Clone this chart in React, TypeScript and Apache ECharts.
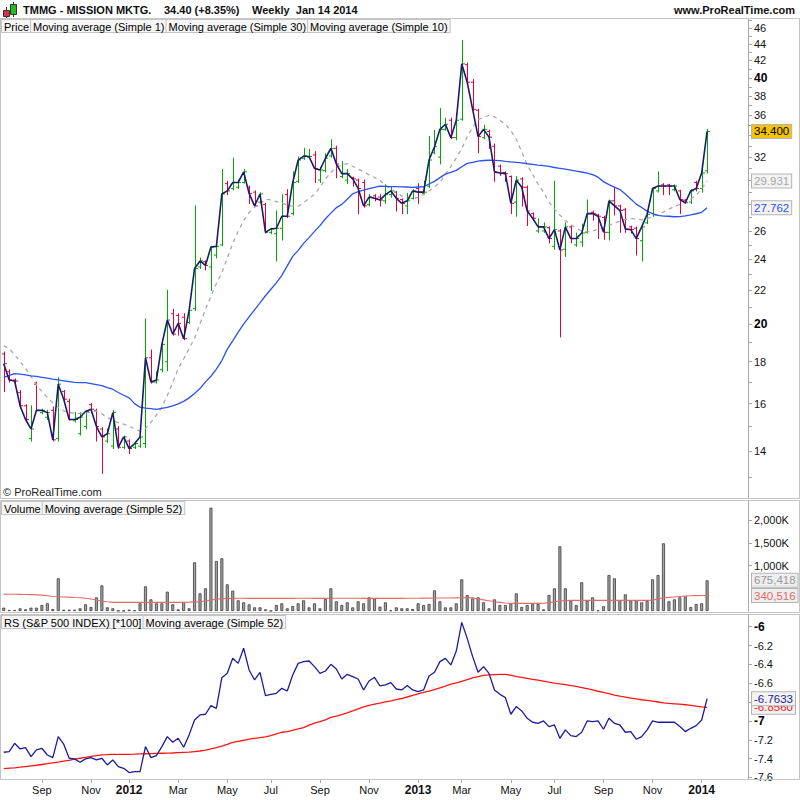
import React, { useEffect, useRef } from "react";
import * as echarts from "echarts";

// ---------- DATA (weekly bars) ----------
const OPEN = [
  18.4, 17.5, 17.1, 16.5, 15.9, 14.5, 16.9, 15.6, 15.4, 15.7,
  14.5, 16.55, 16.1, 15.25, 14.7, 15.0, 15.95, 15.7, 14.9, 14.4,
  14.2, 14.9, 14.15, 14.4, 14.15, 14.2, 14.3, 18.2, 17.0, 17.6,
  18.0, 20.6, 20.5, 20.4, 20.1, 20.9, 23.5, 23.85, 23.5, 24.3,
  25.0, 29.7, 29.3, 29.4, 29.8, 29.4, 29.0, 28.2, 28.0, 25.9,
  25.8, 26.2, 28.8, 27.3, 29.9, 31.9, 32.0, 32.2, 30.0, 30.8,
  32.1, 32.8, 30.3, 30.0, 30.2, 30.0, 29.8, 28.0, 28.7, 28.6,
  28.3, 28.8, 29.0, 28.4, 27.9, 28.5, 29.3, 28.9, 29.5, 32.4,
  32.0, 34.6, 35.5, 33.8, 35.6, 41.5, 39.5, 36.5, 33.8, 34.4,
  33.0, 31.2, 30.65, 30.3, 28.2, 30.1, 29.4, 27.3, 26.0, 26.0,
  26.25, 24.9, 26.0, 24.7, 26.3, 25.0, 25.2, 25.9, 27.4, 27.2,
  27.0, 25.9, 28.3, 27.9, 27.6, 26.3, 26.2, 25.3, 26.6, 27.3,
  29.1, 29.6, 29.6, 29.2, 29.1, 28.35, 28.2, 29.8, 29.3, 30.8,
];
const HIGH = [
  18.5, 17.6, 17.15, 16.6, 15.95, 15.9, 17.0, 15.75, 15.7, 15.85,
  17.2, 16.6, 16.2, 15.6, 15.6, 15.7, 16.0, 15.75, 14.95, 14.9,
  15.7, 15.0, 14.6, 14.45, 14.35, 14.65, 20.3, 18.6, 17.5, 19.0,
  22.0, 20.85, 20.6, 20.6, 20.95, 27.9, 24.1, 23.9, 24.9, 24.95,
  30.9, 29.9, 31.9, 30.0, 30.9, 29.5, 29.1, 28.95, 28.1, 26.2,
  27.5, 28.8, 29.2, 30.7, 32.0, 32.8, 32.7, 32.5, 31.1, 32.3,
  33.6, 33.0, 31.6, 30.9, 30.25, 30.1, 30.0, 28.8, 28.8, 28.8,
  29.6, 29.4, 29.05, 28.45, 28.9, 29.2, 29.7, 29.9, 33.9, 34.5,
  36.7, 35.7, 35.7, 36.2, 44.4, 41.7, 39.8, 36.6, 35.0, 34.5,
  33.2, 31.3, 30.7, 30.35, 30.3, 30.2, 29.5, 27.35, 26.9, 26.6,
  26.3, 29.9, 26.1, 26.6, 26.4, 25.85, 26.5, 28.36, 27.5, 27.25,
  27.1, 28.36, 29.4, 27.95, 27.7, 26.35, 26.3, 26.35, 27.5, 29.35,
  30.7, 29.7, 29.65, 29.6, 29.15, 28.4, 29.2, 29.9, 31.4, 34.6,
];
const LOW = [
  16.55, 17.0, 16.95, 15.8, 15.25, 14.4, 15.65, 15.55, 15.3, 14.4,
  14.4, 16.15, 15.28, 15.2, 14.65, 14.9, 15.6, 14.4, 13.15, 14.35,
  14.1, 14.1, 14.1, 13.9, 14.1, 14.15, 14.15, 16.95, 16.95, 17.5,
  17.55, 19.4, 19.4, 19.15, 20.05, 20.8, 23.4, 23.3, 22.0, 24.1,
  24.95, 28.8, 29.2, 29.3, 29.75, 28.1, 27.85, 28.1, 25.85, 25.8,
  23.9, 25.35, 27.0, 27.2, 29.8, 31.8, 31.95, 29.8, 29.8, 30.7,
  32.0, 30.2, 30.2, 29.7, 29.5, 27.3, 27.8, 27.9, 28.3, 27.9,
  28.1, 28.6, 27.5, 27.3, 27.3, 28.45, 28.1, 28.85, 29.4, 32.3,
  31.4, 34.5, 33.7, 33.6, 35.5, 39.3, 36.5, 32.4, 33.7, 32.8,
  29.9, 30.4, 29.9, 27.3, 27.1, 27.9, 26.4, 26.8, 25.9, 25.9,
  25.15, 24.7, 19.3, 24.2, 25.15, 24.9, 24.9, 25.85, 26.8, 25.45,
  25.4, 25.35, 27.2, 25.9, 25.9, 25.85, 24.3, 23.9, 26.55, 27.1,
  29.0, 28.8, 28.8, 29.1, 27.3, 28.1, 28.1, 29.1, 29.0, 30.6,
];
const CLOSE = [
  17.9, 17.1, 17.05, 15.9, 15.3, 14.9, 15.7, 15.7, 15.6, 14.45,
  16.9, 16.2, 15.3, 15.3, 15.4, 15.65, 15.75, 15.0, 14.57, 14.7,
  15.6, 14.15, 14.57, 14.1, 14.3, 14.57, 18.2, 17.0, 17.1, 18.9,
  20.24, 19.45, 20.05, 19.2, 20.8, 23.4, 23.9, 23.6, 24.85, 24.9,
  28.85, 29.1, 29.8, 29.8, 30.7, 28.9, 27.9, 28.85, 25.9, 26.15,
  26.2, 27.1, 27.1, 29.8, 31.74, 32.1, 32.05, 31.0, 30.86, 31.9,
  32.8, 31.4, 30.55, 30.55, 30.1, 29.3, 27.9, 28.6, 28.5, 28.36,
  28.8, 29.1, 28.5, 28.1, 28.3, 29.1, 29.0, 29.0, 31.74, 32.95,
  34.6, 35.1, 33.8, 35.5, 41.6, 39.5, 36.6, 33.9, 34.6, 33.85,
  30.7, 30.6, 30.55, 28.1, 30.0, 29.4, 27.5, 26.95, 26.3, 26.3,
  25.45, 26.1, 24.65, 26.3, 25.45, 25.45, 25.85, 27.3, 27.3, 27.1,
  25.9, 28.3, 27.9, 27.55, 26.15, 26.1, 25.45, 26.3, 27.25, 29.3,
  29.5, 29.5, 29.5, 29.5, 28.4, 28.15, 29.1, 29.3, 30.6, 34.4,
];
const MA30 = [
  17.22, 17.32, 17.41, 17.38, 17.35, 17.3, 17.27, 17.23, 17.19, 17.14,
  17.1, 17.06, 17.02, 16.98, 16.97, 16.97, 16.93, 16.88, 16.83, 16.74,
  16.66, 16.51, 16.38, 16.26, 16.0, 15.84, 15.8, 15.78, 15.74, 15.79,
  15.83, 15.9, 15.99, 16.1, 16.26, 16.46, 16.69, 17.01, 17.28, 17.63,
  18.06, 18.65, 19.09, 19.56, 20.01, 20.42, 20.83, 21.24, 21.67, 22.07,
  22.47, 22.95, 23.57, 24.21, 24.62, 25.11, 25.52, 25.97, 26.39, 26.91,
  27.34, 27.76, 28.02, 28.42, 28.87, 29.04, 29.17, 29.28, 29.39, 29.49,
  29.48, 29.46, 29.45, 29.43, 29.42, 29.39, 29.42, 29.44, 29.67, 29.89,
  30.21, 30.51, 30.65, 30.83, 31.15, 31.44, 31.54, 31.64, 31.7, 31.72,
  31.71, 31.68, 31.62, 31.57, 31.53, 31.48, 31.41, 31.35, 31.29, 31.24,
  31.17, 31.08, 31.01, 30.93, 30.85, 30.76, 30.69, 30.6, 30.47, 30.25,
  29.87, 29.62, 29.41, 29.21, 28.84, 28.44, 28.04, 27.77, 27.49, 27.29,
  27.17, 27.11, 27.1, 27.06, 27.07, 27.12, 27.2, 27.29, 27.4, 27.762,
];
const MA10 = [
  18.82, 18.68, 18.36, 18.01, 17.67, 17.27, 16.88, 16.55, 16.28, 16.03,
  15.84, 15.68, 15.61, 15.57, 15.57, 15.59, 15.62, 15.68, 15.54, 15.39,
  15.26, 15.17, 15.1, 15.01, 14.9, 14.81, 14.92, 15.18, 15.49, 15.85,
  16.37, 16.98, 17.65, 18.14, 18.67, 19.24, 20.02, 20.85, 21.64, 22.43,
  23.12, 24.09, 25.09, 25.98, 26.77, 27.37, 27.8, 28.07, 28.42, 28.38,
  28.24, 28.1, 27.96, 27.88, 27.87, 28.16, 28.5, 28.81, 29.41, 30.09,
  30.65, 31.12, 31.29, 31.43, 31.19, 30.95, 30.72, 30.44, 30.22, 29.96,
  29.58, 29.27, 28.97, 28.7, 28.48, 28.45, 28.57, 28.81, 29.09, 29.41,
  29.83, 30.48, 31.18, 31.92, 32.78, 33.89, 34.79, 35.54, 35.81, 35.99,
  35.84, 35.47, 35.12, 34.48, 33.65, 32.49, 31.33, 30.47, 29.66, 29.0,
  28.2, 27.65, 27.19, 26.77, 26.47, 26.21, 25.99, 25.93, 25.99, 26.14,
  26.25, 26.43, 26.58, 26.73, 26.86, 26.92, 26.89, 26.82, 26.92, 27.07,
  27.23, 27.43, 27.65, 27.85, 28.02, 28.18, 28.44, 28.76, 29.25, 29.931,
];
const VOLUME = [
  73000, 22000, 22000, 59000, 37000, 73000, 73000, 132000, 169000, 44000,
  720000, 29000, 29000, 29000, 59000, 147000, 88000, 301000, 565000, 80000,
  59000, 6000, 5000, 29000, 15000, 169000, 543000, 257000, 169000, 169000,
  426000, 147000, 37000, 198000, 59000, 1073000, 389000, 499000, 2275000, 1101000,
  1160000, 587000, 448000, 235000, 191000, 147000, 80000, 80000, 37000, 6000,
  132000, 169000, 59000, 110000, 169000, 235000, 80000, 169000, 59000, 264000,
  499000, 213000, 132000, 191000, 80000, 213000, 169000, 301000, 279000, 96000,
  191000, 15000, 80000, 59000, 59000, 44000, 169000, 132000, 154000, 455000,
  213000, 80000, 80000, 169000, 698000, 352000, 279000, 301000, 191000, 59000,
  257000, 132000, 132000, 169000, 389000, 88000, 132000, 154000, 154000, 37000,
  352000, 499000, 1425000, 499000, 235000, 132000, 632000, 220000, 301000, 15000,
  103000, 793000, 720000, 235000, 367000, 235000, 235000, 191000, 220000, 698000,
  793000, 1491000, 213000, 257000, 301000, 323000, 88000, 154000, 169000, 675418,
];
const VOLUME_MA52 = [
  372000, 370000, 368000, 367000, 365000, 360000, 355000, 350000, 335000, 320000,
  315000, 310000, 305000, 298000, 293000, 280000, 265000, 242000, 220000, 205000,
  191000, 191000, 191000, 191000, 191000, 191000, 191000, 191000, 191000, 191000,
  191000, 191000, 191000, 191000, 195000, 200000, 205000, 220000, 240000, 262000,
  270000, 278000, 279000, 280000, 280000, 279000, 279000, 278000, 278000, 278000,
  278000, 279000, 279000, 279000, 280000, 280000, 280000, 279000, 279000, 279000,
  280000, 281000, 281000, 280000, 280000, 280000, 279000, 279000, 279000, 279000,
  279000, 279000, 279000, 279000, 280000, 281000, 282000, 283000, 284000, 285000,
  286000, 287000, 288000, 290000, 292000, 293000, 290000, 270000, 245000, 225000,
  205000, 190000, 175000, 169000, 169000, 169000, 169000, 169000, 169000, 170000,
  185000, 205000, 220000, 228000, 235000, 235000, 235000, 235000, 235000, 235000,
  235000, 235000, 235000, 235000, 235000, 235000, 235000, 235000, 235000, 240000,
  270000, 293000, 300000, 310000, 320000, 330000, 335000, 338000, 340000, 340516,
];
const RS = [
  -7.332, -7.326, -7.237, -7.297, -7.283, -7.378, -7.307, -7.29, -7.361, -7.389,
  -7.166, -7.247, -7.396, -7.403, -7.438, -7.403, -7.389, -7.414, -7.396, -7.467,
  -7.414, -7.484, -7.502, -7.548, -7.537, -7.537, -7.272, -7.389, -7.368, -7.272,
  -7.166, -7.226, -7.184, -7.279, -7.148, -6.989, -6.936, -6.929, -6.837, -6.866,
  -6.541, -6.495, -6.335, -6.389, -6.229, -6.459, -6.565, -6.484, -6.731, -6.717,
  -6.707, -6.654, -6.682, -6.512, -6.389, -6.371, -6.364, -6.424, -6.495, -6.47,
  -6.399, -6.449, -6.555, -6.505, -6.53, -6.555, -6.671, -6.576, -6.537, -6.629,
  -6.618, -6.593, -6.661, -6.671, -6.625, -6.671, -6.689, -6.671, -6.523, -6.484,
  -6.371, -6.336, -6.406, -6.258, -5.954, -6.124, -6.318, -6.484, -6.424, -6.495,
  -6.671, -6.717, -6.753, -6.929, -6.848, -6.894, -6.972, -7.014, -7.025, -7.0,
  -7.06, -7.043, -7.184, -7.095, -7.156, -7.166, -7.12, -7.0, -7.007, -7.0,
  -7.088, -6.972, -7.025, -7.043, -7.12, -7.113, -7.194, -7.166, -7.095, -7.0,
  -7.014, -7.014, -7.014, -7.014, -7.06, -7.113, -7.078, -7.05, -6.99, -6.7633,
];
const RS_MA52 = [
  -7.506, -7.501, -7.497, -7.491, -7.484, -7.477, -7.47, -7.462, -7.454, -7.445,
  -7.437, -7.426, -7.418, -7.406, -7.396, -7.387, -7.377, -7.367, -7.36, -7.358,
  -7.355, -7.354, -7.354, -7.354, -7.353, -7.35, -7.348, -7.346, -7.344, -7.343,
  -7.342, -7.34, -7.337, -7.334, -7.331, -7.325, -7.319, -7.309, -7.297, -7.282,
  -7.266, -7.248, -7.228, -7.216, -7.205, -7.193, -7.185, -7.177, -7.168, -7.155,
  -7.137, -7.12, -7.113, -7.1, -7.083, -7.07, -7.044, -7.023, -7.008, -6.988,
  -6.963, -6.949, -6.932, -6.914, -6.894, -6.872, -6.85, -6.834, -6.821, -6.81,
  -6.798, -6.787, -6.775, -6.762, -6.746, -6.73, -6.712, -6.698, -6.684, -6.667,
  -6.648, -6.63, -6.609, -6.597, -6.579, -6.561, -6.544, -6.53, -6.517, -6.511,
  -6.508, -6.506, -6.505, -6.515, -6.53, -6.538, -6.548, -6.558, -6.568, -6.578,
  -6.589, -6.599, -6.607, -6.615, -6.625, -6.634, -6.646, -6.658, -6.671, -6.685,
  -6.696, -6.71, -6.725, -6.737, -6.747, -6.757, -6.767, -6.775, -6.782, -6.79,
  -6.799, -6.808, -6.814, -6.818, -6.822, -6.828, -6.835, -6.843, -6.85, -6.856,
];

// tick labels / axis settings
const PRICE_LABELS = [14, 16, 18, 20, 22, 24, 26, 28, 30, 32, 34, 36, 38, 40, 42, 44, 46];
const PRICE_TICKS = [13, 14, 15, 16, 17, 18, 19, 20, 21, 22, 23, 24, 25, 26, 27, 28, 29, 30, 31, 32, 33, 34, 35, 36, 37, 38, 39, 40, 41, 42, 43, 44, 45, 46, 47];
const PRICE_BOLD = [20, 40];
const VOLUME_LABELS = [1000000, 1500000, 2000000];
const RS_LABELS = [-6, -6.2, -6.4, -6.6, -6.8, -7, -7.2, -7.4, -7.6];
const PRICE_RANGE = [12.27, 47.19];
const VOLUME_MAX = 2423000;
const RS_RANGE = [-7.616, -5.876];
const FIRST_WEEK = Date.UTC(2011, 6, 18);
const MISSING_WEEK = "2011-12-26";
const PAD_WEEKS = 7;
const MONTHS = ["Jan", "Feb", "Mar", "Apr", "May", "Jun", "Jul", "Aug", "Sep", "Oct", "Nov", "Dec"];

const TITLE = "TMMG - MISSION MKTG.";
const TITLE_PRICE = "34.40 (+8.35%)";
const TITLE_PERIOD = "Weekly  Jan 14 2014";

// ---------- STYLE ----------
const FONT = '"Liberation Sans", Arial, Helvetica, sans-serif';
const UP = "#00a800";
const DOWN = "#e8003d";
const C_CLOSE = "#1b1b6e";
const C_MA30 = "#2b52ee";
const C_MA10 = "#a9a9a9";
const C_VOLMA = "#e36a6a";
const C_RS = "#1c1c9c";
const C_RSMA = "#ff1414";
const AXIS = "#a8a8a8";
const FRAME = "#c4c4c4";

// grid heights in px (used to keep axis labels that would sit under a value tag hidden, as in the reference)
const PRICE_H = 479;
const RS_H = 164;
const TAG_CLEARANCE = 8;

const L = (v: number) => Math.log10(v);

function buildWeeks(): string[] {
  const out: string[] = [];
  let t = FIRST_WEEK;
  while (out.length < CLOSE.length) {
    const s = new Date(t).toISOString().slice(0, 10);
    if (s !== MISSING_WEEK) out.push(s);
    t += 7 * 86400000;
  }
  for (let k = 0; k < PAD_WEEKS; k++) out.push("~" + k);
  return out;
}

function buildOption(): any {
  const cats = buildWeeks();
  const isDate = (s: string) => /^\d{4}-/.test(s);
  const month = (s: string) => (isDate(s) ? Number(s.slice(5, 7)) - 1 : -1);
  const showAt = (i: number) => {
    if (i <= 0 || !isDate(cats[i])) return false;
    const m = month(cats[i]);
    return m !== month(cats[i - 1]) && m % 2 === 0;
  };
  const last = CLOSE.length - 1;

  // axis labels hidden under the value tags (as in the reference)
  const priceMin = L(PRICE_RANGE[0]);
  const priceMax = L(PRICE_RANGE[1]);
  const pricePx = PRICE_H / (priceMax - priceMin);
  const priceTags = [CLOSE[last], MA30[last], MA10[last]].map(L);
  const priceLabels = PRICE_LABELS.map(L).filter((v) => priceTags.every((t) => Math.abs(t - v) * pricePx > TAG_CLEARANCE));
  const rsPx = RS_H / (RS_RANGE[1] - RS_RANGE[0]);
  const rsTags = [RS[last], RS_MA52[last]];
  const rsLabels = RS_LABELS.filter((v) => rsTags.every((t) => Math.abs(t - v) * rsPx > TAG_CLEARANCE));

  const ohlc = CLOSE.map((c, i) => [i, L(OPEN[i]), L(HIGH[i]), L(LOW[i]), L(c)]);

  const renderOHLC = (_params: any, api: any) => {
    const i = api.value(0);
    const o = api.value(1);
    const c = api.value(4);
    const pH = api.coord([i, api.value(2)]);
    const pL = api.coord([i, api.value(3)]);
    const pO = api.coord([i, o]);
    const pC = api.coord([i, c]);
    const x = Math.round(pH[0]) + 0.5;
    const st = { stroke: c >= o ? UP : DOWN, lineWidth: 1 };
    return {
      type: "group",
      children: [
        { type: "line", shape: { x1: x, y1: pH[1] - 0.5, x2: x, y2: pL[1] + 0.5 }, style: st },
        { type: "line", shape: { x1: x - 2.5, y1: pO[1], x2: x, y2: pO[1] }, style: st },
        { type: "line", shape: { x1: x, y1: pC[1], x2: x + 2.5, y2: pC[1] }, style: st },
      ],
    };
  };

  const tag = (axis: number, value: number, text: string, fg: string, bg: string, z: number) => ({
    type: "custom",
    xAxisIndex: axis,
    yAxisIndex: axis,
    clip: false,
    silent: true,
    z,
    data: [[last, value]],
    renderItem: (params: any, api: any) => {
      const p = api.coord([api.value(0), api.value(1)]);
      const cs = params.coordSys;
      return {
        type: "text",
        x: cs.x + cs.width + 4,
        y: p[1],
        style: {
          text,
          fill: fg,
          fontSize: 11.5,
          fontFamily: FONT,
          verticalAlign: "middle",
          align: "left",
          backgroundColor: bg,
          borderColor: "#b4b4b4",
          borderWidth: 1,
          padding: [1, 2, 0, 2],
        },
      };
    },
  });

  const legend = (top: number, items: [string, string][]) => {
    const rich: Record<string, any> = {};
    const text = items
      .map(([t, c], k) => {
        rich["s" + k] = {
          color: c,
          fontSize: 11,
          fontFamily: FONT,
          backgroundColor: "#f6f6f6",
          borderColor: "#c4c4c4",
          borderWidth: 1,
          padding: [1, 2, 0, 2],
          lineHeight: 13,
        };
        return `{s${k}|${t}}`;
      })
      .join("");
    return { type: "text", left: 1, top, z: 50, style: { text, rich } };
  };

  const xAxisBase = {
    type: "category",
    data: cats,
    boundaryGap: true,
  };

  const labelStyle = { color: "#111", fontSize: 11, fontFamily: FONT };

  return {
    animation: false,
    backgroundColor: "#ffffff",
    grid: [
      { left: 1, right: 52, top: 19, height: PRICE_H },
      { left: 1, right: 52, top: 501, height: 110 },
      { left: 1, right: 52, top: 615, height: RS_H },
    ],
    xAxis: [
      { ...xAxisBase, gridIndex: 0, show: false },
      { ...xAxisBase, gridIndex: 1, show: false },
      {
        ...xAxisBase,
        gridIndex: 2,
        axisLine: { show: true, lineStyle: { color: AXIS } },
        axisTick: { show: true, length: 4, alignWithLabel: true, interval: (i: number) => showAt(i), lineStyle: { color: AXIS } },
        axisLabel: {
          ...labelStyle,
          interval: (i: number) => showAt(i),
          margin: 5,
          formatter: (v: string) => {
            const m = month(v);
            return m === 0 ? `{y|${v.slice(0, 4)}}` : MONTHS[m] || "";
          },
          rich: { y: { fontWeight: "bold", fontSize: 12, fontFamily: FONT, color: "#111" } },
        },
        splitLine: { show: false },
      },
    ],
    yAxis: [
      {
        type: "value",
        gridIndex: 0,
        position: "right",
        min: priceMin,
        max: priceMax,
        splitLine: { show: false },
        axisLine: { show: true, lineStyle: { color: AXIS } },
        axisTick: { show: true, length: 4, lineStyle: { color: AXIS }, customValues: PRICE_TICKS.map(L) },
        axisLabel: {
          ...labelStyle,
          margin: 6,
          customValues: priceLabels,
          formatter: (v: number) => {
            const p = Math.round(Math.pow(10, v));
            return PRICE_BOLD.includes(p) ? `{b|${p}}` : String(p);
          },
          rich: { b: { fontWeight: "bold", fontSize: 12, fontFamily: FONT, color: "#000" } },
        },
      },
      {
        type: "value",
        gridIndex: 1,
        position: "right",
        min: 0,
        max: VOLUME_MAX,
        splitLine: { show: false },
        axisLine: { show: true, lineStyle: { color: AXIS } },
        axisTick: { show: true, length: 4, lineStyle: { color: AXIS }, customValues: VOLUME_LABELS },
        axisLabel: {
          ...labelStyle,
          margin: 6,
          customValues: VOLUME_LABELS,
          formatter: (v: number) => (v / 1000).toLocaleString("en-US") + "K",
        },
      },
      {
        type: "value",
        gridIndex: 2,
        position: "right",
        min: RS_RANGE[0],
        max: RS_RANGE[1],
        splitLine: { show: false },
        axisLine: { show: true, lineStyle: { color: AXIS } },
        axisTick: { show: true, length: 4, lineStyle: { color: AXIS }, customValues: RS_LABELS },
        axisLabel: {
          ...labelStyle,
          margin: 6,
          customValues: rsLabels,
          formatter: (v: number) => {
            const r = Math.round(v * 10) / 10;
            return Number.isInteger(r) ? `{b|${r}}` : r.toFixed(1);
          },
          rich: { b: { fontWeight: "bold", fontSize: 12, fontFamily: FONT, color: "#000" } },
        },
      },
    ],
    series: [
      {
        name: "Price",
        type: "custom",
        xAxisIndex: 0,
        yAxisIndex: 0,
        data: ohlc,
        encode: { x: 0, y: [1, 2, 3, 4] },
        renderItem: renderOHLC,
        silent: true,
        z: 2,
      },
      {
        name: "Moving average (Simple 10)",
        type: "line",
        xAxisIndex: 0,
        yAxisIndex: 0,
        data: MA10.map(L),
        symbol: "none",
        silent: true,
        lineStyle: { color: C_MA10, width: 1.3, type: [4, 4] },
        z: 3,
      },
      {
        name: "Moving average (Simple 30)",
        type: "line",
        xAxisIndex: 0,
        yAxisIndex: 0,
        data: MA30.map(L),
        symbol: "none",
        silent: true,
        lineStyle: { color: C_MA30, width: 1.3 },
        z: 3,
      },
      {
        name: "Moving average (Simple 1)",
        type: "line",
        xAxisIndex: 0,
        yAxisIndex: 0,
        data: CLOSE.map(L),
        symbol: "none",
        silent: true,
        lineStyle: { color: C_CLOSE, width: 1.6 },
        z: 4,
      },
      {
        name: "Volume",
        type: "bar",
        xAxisIndex: 1,
        yAxisIndex: 1,
        data: VOLUME,
        barWidth: 3,
        silent: true,
        itemStyle: { color: "#a4a4a4", borderColor: "#3c3c3c", borderWidth: 0.8 },
      },
      {
        name: "Volume MA",
        type: "line",
        xAxisIndex: 1,
        yAxisIndex: 1,
        data: VOLUME_MA52,
        symbol: "none",
        silent: true,
        lineStyle: { color: C_VOLMA, width: 1.1 },
        z: 4,
      },
      {
        name: "RS MA",
        type: "line",
        xAxisIndex: 2,
        yAxisIndex: 2,
        data: RS_MA52,
        symbol: "none",
        silent: true,
        lineStyle: { color: C_RSMA, width: 1.3 },
        z: 3,
      },
      {
        name: "RS",
        type: "line",
        xAxisIndex: 2,
        yAxisIndex: 2,
        data: RS,
        symbol: "none",
        silent: true,
        lineStyle: { color: C_RS, width: 1.3 },
        z: 4,
      },
      tag(0, L(MA30[last]), MA30[last].toFixed(3), C_MA30, "#f3f3f3", 10),
      tag(0, L(MA10[last]), MA10[last].toFixed(3), "#a6a6a6", "#f3f3f3", 10),
      tag(0, L(CLOSE[last]), CLOSE[last].toFixed(3), "#000000", "#f5c400", 11),
      tag(1, VOLUME[last], VOLUME[last].toLocaleString("en-US"), "#9a9a9a", "#eeeeee", 10),
      tag(1, VOLUME_MA52[last], VOLUME_MA52[last].toLocaleString("en-US"), C_VOLMA, "#eeeeee", 10),
      tag(2, RS_MA52[last], RS_MA52[last].toFixed(4), C_RSMA, "#f3f3f3", 10),
      tag(2, RS[last], RS[last].toFixed(4), C_RS, "#f3f3f3", 11),
    ],
    graphic: [
      // frames
      { type: "line", shape: { x1: 0, y1: 18.5, x2: 800, y2: 18.5 }, style: { stroke: FRAME, lineWidth: 1 }, z: 1 },
      { type: "rect", shape: { x: 0.5, y: 18.5, width: 799, height: 480 }, style: { fill: "none", stroke: FRAME, lineWidth: 1 }, z: 1 },
      { type: "rect", shape: { x: 0.5, y: 500.5, width: 799, height: 112 }, style: { fill: "none", stroke: FRAME, lineWidth: 1 }, z: 1 },
      { type: "rect", shape: { x: 0.5, y: 614.5, width: 799, height: 165 }, style: { fill: "none", stroke: FRAME, lineWidth: 1 }, z: 1 },
      // header icon
      { type: "line", shape: { x1: 6.5, y1: 7, x2: 6.5, y2: 18 }, style: { stroke: "#333", lineWidth: 1 }, z: 5 },
      { type: "rect", shape: { x: 3.5, y: 10.5, width: 6, height: 6 }, style: { fill: "#e03048", stroke: "#333", lineWidth: 1 }, z: 6 },
      { type: "line", shape: { x1: 13.5, y1: 2, x2: 13.5, y2: 17 }, style: { stroke: "#333", lineWidth: 1 }, z: 5 },
      { type: "rect", shape: { x: 10.5, y: 4.5, width: 6, height: 10 }, style: { fill: "#22bb22", stroke: "#333", lineWidth: 1 }, z: 6 },
      // header texts
      { type: "text", left: 23, top: 4, style: { text: TITLE, fontSize: 11, fontWeight: "bold", fontFamily: FONT, fill: "#111" } },
      { type: "text", left: 164, top: 4, style: { text: TITLE_PRICE, fontSize: 11, fontWeight: "bold", fontFamily: FONT, fill: "#111" } },
      { type: "text", left: 252, top: 4, style: { text: TITLE_PERIOD, fontSize: 11, fontWeight: "bold", fontFamily: FONT, fill: "#111" } },
      { type: "text", right: 5, top: 4, style: { text: "www.ProRealTime.com", fontSize: 11, fontWeight: "bold", fontFamily: FONT, fill: "#111" } },
      // legends
      legend(19, [
        ["Price", "#111111"],
        ["Moving average (Simple 1)", C_CLOSE],
        ["Moving average (Simple 30)", C_MA30],
        ["Moving average (Simple 10)", "#aaaaaa"],
      ]),
      legend(501, [
        ["Volume", "#a0a0a0"],
        ["Moving average (Simple 52)", C_VOLMA],
      ]),
      legend(615, [
        ["RS (S&P 500 INDEX) [*100]", C_RS],
        ["Moving average (Simple 52)", C_RSMA],
      ]),
      { type: "text", left: 3, top: 486, style: { text: "\u00a9 ProRealTime.com", fontSize: 11, fontFamily: FONT, fill: "#222" } },
    ],
  };
}

export default function App() {
  const ref = useRef<HTMLDivElement>(null);
  useEffect(() => {
    if (!ref.current) return;
    const chart = echarts.init(ref.current, null, { renderer: "svg" });
    chart.setOption(buildOption());
    return () => chart.dispose();
  }, []);
  return (
    <div
      ref={ref}
      style={{ position: "fixed", left: 0, top: 0, width: 800, height: 800, background: "#fff" }}
    />
  );
}
